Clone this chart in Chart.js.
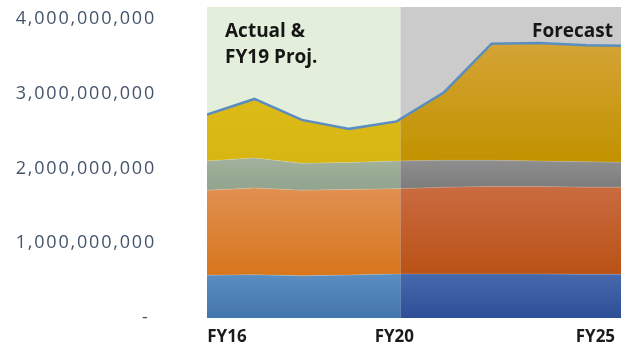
<!DOCTYPE html>
<html>
<head>
<meta charset="utf-8">
<script src="https://cdn.jsdelivr.net/npm/chart.js@4"></script>
<style>
  html, body { margin: 0; padding: 0; background: #ffffff; overflow: hidden; }
  canvas { display: block; }
</style>
</head>
<body>
<canvas id="c" width="622" height="352"></canvas>
<script>
// Fiscal years, stacked budget components (dollars)
const years = ['FY16','FY17','FY18','FY19','FY20','FY21','FY22','FY23','FY24','FY25'];
const blueSeries   = [573e6, 580e6, 565e6, 575e6, 590e6, 590e6, 590e6, 590e6, 585e6, 585e6];
const orangeSeries = [1137e6, 1160e6, 1145e6, 1145e6, 1140e6, 1160e6, 1170e6, 1170e6, 1165e6, 1165e6];
const graySeries   = [390e6, 400e6, 360e6, 360e6, 370e6, 360e6, 350e6, 340e6, 340e6, 330e6];
const yellowSeries = [620e6, 790e6, 580e6, 450e6, 530e6, 910e6, 1560e6, 1580e6, 1560e6, 1560e6];

const yTickValues = [0, 1e9, 2e9, 3e9, 4e9];
const xTickLabels = ['FY16', 'FY20', 'FY25'];

// layout helpers (index units on the year axis)
const xTickAt = [0.42, 3.95, 8.19];
const splitAt = 4.08;
const xMax = 8.73;
const yMax = 4.16e9;

// per layer: value range for vertical shading, left-period and right-period stops
const layerShade = [
  { range: [0.58e9, 0],      left: ['#5a8ec1', '#4375ac'], right: ['#4668ac', '#2d4f98'] },
  { range: [1.74e9, 0.58e9], left: ['#e09052', '#d7761c'], right: ['#c96a40', '#b95215'] },
  { range: [2.10e9, 1.74e9], left: ['#a0b09a', '#93a58e'], right: ['#8e8e8e', '#7c7c7c'] },
  { range: [3.68e9, 2.10e9], left: ['#dfbd1c', '#d8b612'], right: ['#d4a436', '#c29200'] }
];

const patternCache = {};
function layerFill(context, idx) {
  const chart = context.chart;
  const area = chart.chartArea;
  if (!area) return layerShade[idx].left[0];
  const key = idx + ':' + chart.width + 'x' + chart.height + ':' + area.left + ',' + area.top + ',' + area.bottom;
  if (patternCache[key]) return patternCache[key];
  const xs = chart.scales.x, ys = chart.scales.y;
  const off = document.createElement('canvas');
  off.width = chart.width; off.height = chart.height;
  const g = off.getContext('2d');
  const sx = xs.getPixelForValue(splitAt);
  const y0 = ys.getPixelForValue(layerShade[idx].range[0]);
  const y1 = ys.getPixelForValue(layerShade[idx].range[1]);
  const gl = g.createLinearGradient(0, y0, 0, y1);
  gl.addColorStop(0, layerShade[idx].left[0]);
  gl.addColorStop(1, layerShade[idx].left[1]);
  g.fillStyle = gl; g.fillRect(0, 0, sx, off.height);
  const gr = g.createLinearGradient(0, y0, 0, y1);
  gr.addColorStop(0, layerShade[idx].right[0]);
  gr.addColorStop(1, layerShade[idx].right[1]);
  g.fillStyle = gr; g.fillRect(sx, 0, off.width - sx, off.height);
  const p = chart.ctx.createPattern(off, 'no-repeat');
  patternCache[key] = p;
  return p;
}

function points(series) {
  return series.map((v, i) => ({ x: i, y: v }));
}

// shaded period backgrounds and the period captions
const periodPlugin = {
  id: 'periods',
  afterLayout(chart) {
    // slightly tracked-out value labels on the y axis
    const y = chart.scales.y;
    if (y && !y._tracked) {
      const orig = y.drawLabels.bind(y);
      y.drawLabels = function (area) {
        const c = this.ctx;
        const prev = c.letterSpacing;
        c.letterSpacing = '1.8px';
        orig(area);
        c.letterSpacing = prev || '0px';
      };
      y._tracked = true;
    }
  },
  beforeDatasetsDraw(chart) {
    const { ctx, chartArea: a, scales: { x } } = chart;
    const sx = x.getPixelForValue(splitAt);
    ctx.save();
    ctx.fillStyle = '#e3efdb';
    ctx.fillRect(a.left, a.top, sx - a.left, a.bottom - a.top);
    ctx.fillStyle = '#cbcbcb';
    ctx.fillRect(sx, a.top, a.right - sx, a.bottom - a.top);
    ctx.restore();
  },
  afterDatasetsDraw(chart) {
    const { ctx, chartArea: a } = chart;
    ctx.save();
    ctx.fillStyle = '#161616';
    ctx.font = 'bold 19px "Open Sans"';
    ctx.textBaseline = 'alphabetic';
    ctx.textAlign = 'left';
    ctx.fillText('Actual &', a.left + 18, 37);
    ctx.fillText('FY19 Proj.', a.left + 18, 63);
    ctx.textAlign = 'right';
    ctx.fillText('Forecast', 613, 37);
    ctx.restore();
  }
};

const seams = 'rgba(255,255,255,0.18)';

new Chart(document.getElementById('c'), {
  type: 'line',
  data: {
    datasets: [
      { label: 'Blue',   data: points(blueSeries),   fill: 'origin', borderWidth: 1, borderColor: seams,
        backgroundColor: c => layerFill(c, 0) },
      { label: 'Orange', data: points(orangeSeries), fill: '-1', borderWidth: 1, borderColor: seams,
        backgroundColor: c => layerFill(c, 1) },
      { label: 'Gray',   data: points(graySeries),   fill: '-1', borderWidth: 1, borderColor: seams,
        backgroundColor: c => layerFill(c, 2) },
      { label: 'Yellow', data: points(yellowSeries), fill: '-1', borderWidth: 2.5, borderColor: '#5b8ec0',
        backgroundColor: c => layerFill(c, 3) }
    ]
  },
  options: {
    responsive: false,
    animation: false,
    layout: { padding: { top: 7, right: 1, left: 0, bottom: 0 } },
    elements: { point: { radius: 0 }, line: { tension: 0 } },
    plugins: { legend: { display: false }, tooltip: { enabled: false } },
    scales: {
      x: {
        type: 'linear',
        min: 0,
        max: xMax,
        grid: { display: false, drawTicks: false },
        border: { display: false },
        afterBuildTicks: s => { s.ticks = xTickAt.map(v => ({ value: v })); },
        afterFit: s => { s.height = 34; s.paddingLeft = 0; s.paddingRight = 0; },
        ticks: {
          autoSkip: false,
          maxRotation: 0,
          padding: 9,
          color: '#1b1b1b',
          font: { family: 'Open Sans', size: 17, weight: 'bold' },
          callback: (v, i) => xTickLabels[i]
        }
      },
      y: {
        stacked: true,
        min: 0,
        max: yMax,
        grid: { display: false, drawTicks: false },
        border: { display: false },
        afterBuildTicks: s => { s.ticks = yTickValues.map(v => ({ value: v })); },
        afterFit: s => { s.width = 207; s.paddingTop = 0; s.paddingBottom = 0; },
        ticks: {
          padding: 51,
          color: '#44546a',
          font: { family: 'Open Sans', size: 18 },
          callback: v => v === 0 ? '- ' : v.toLocaleString('en-US')
        }
      }
    }
  },
  plugins: [periodPlugin]
});
</script>
</body>
</html>
